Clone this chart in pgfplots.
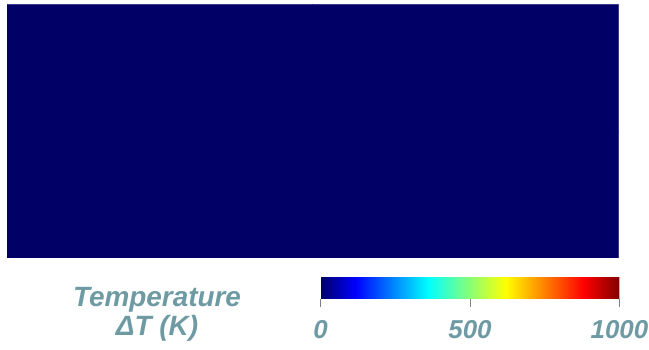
\documentclass[border=0pt]{standalone}
\usepackage{pgfplots}
\pgfplotsset{compat=1.18}
\usepackage{fontspec}
\setmainfont{Liberation Sans}
\definecolor{labcol}{RGB}{110,155,163}
\pgfplotsset{
  colormap={refjet}{rgb255(0)=(0,0,102) rgb255(117)=(0,0,255) rgb255(360)=(0,255,255) rgb255(620)=(255,255,0) rgb255(880)=(255,0,0) rgb255(1000)=(128,0,0)}
}
\begin{document}
\begin{tikzpicture}
\useasboundingbox (0,0) rectangle (649bp,350bp);
\begin{axis}[
  at={(7bp,92bp)}, anchor=south west,
  scale only axis, width=611.5bp, height=253.5bp,
  hide axis,
  xmin=-0.5, xmax=1.5, ymin=-0.5, ymax=1.5,
  enlargelimits=false,
  colormap name=refjet,
  point meta min=0, point meta max=1000,
  colorbar horizontal,
  colorbar/width=21bp,
  colorbar style={
    at={(parent axis.south east)}, anchor=north east,
    xshift=1bp, yshift=-11bp,
    scale only axis,
    width=299bp, height=21bp,
    xtick={0,500,1000},
    axis line style={draw=none},
    tick align=outside,
    xtick pos=bottom,
    major tick length=8bp,
    major tick style={gray, line width=0.8bp},
    xticklabel style={font=\fontsize{26}{26}\selectfont\bfseries\itshape, text=labcol, yshift=-10bp},
    /pgf/number format/assume math mode=true,
    /pgf/number format/1000 sep={},
  },
]
\addplot[matrix plot*, mesh/cols=2, point meta=explicit, shader=flat] coordinates {
  (0,0) [0] (1,0) [0]
  (0,1) [0] (1,1) [0]
};
\end{axis}
\node[align=center, text=labcol, font=\fontsize{28}{28.5}\selectfont\bfseries\itshape, anchor=base] at (157bp,15bp) {Temperature\\ΔT (K)};
\end{tikzpicture}
\end{document}
